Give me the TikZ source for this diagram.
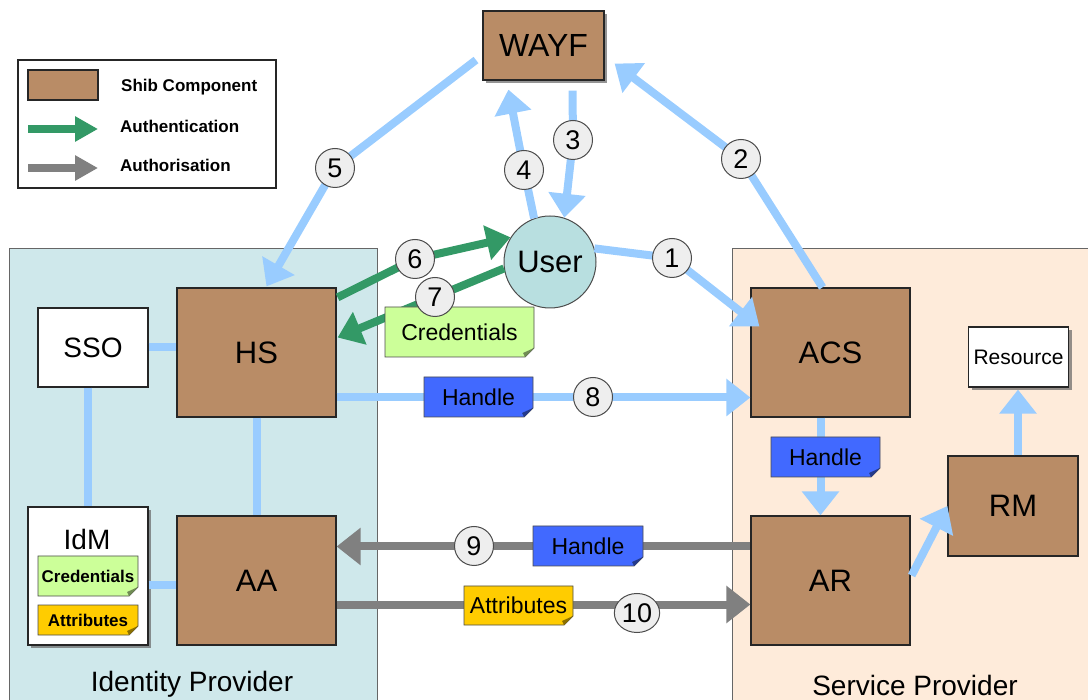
\documentclass[tikz,border=0pt]{standalone}
\usepackage{fontspec}
\setmainfont{Liberation Sans}
\usetikzlibrary{arrows.meta,shapes.geometric,shadows,calc}
\definecolor{shibbrown}{HTML}{B98C66}
\definecolor{idpfill}{HTML}{CFE8EB}
\definecolor{spfill}{HTML}{FEEBDA}
\definecolor{userfill}{HTML}{B8DFE0}
\definecolor{lblue}{HTML}{99CCFF}
\definecolor{authgreen}{HTML}{339966}
\definecolor{authgray}{HTML}{808080}
\definecolor{notegreen}{HTML}{CCFF99}
\definecolor{noteblue}{HTML}{4169FF}
\definecolor{noteyellow}{HTML}{FFCC00}
\definecolor{numfill}{HTML}{EEEEEE}
\newcommand{\setfs}[1]{\fontsize{#1}{#1}\selectfont}
% name, x1, y1, x2, y2, colour, text
\newcommand{\notebox}[7]{%
  \path[fill=#6, draw=black!70, line width=0.8pt] (#2,#3) -- (#4,#3) -- (#4,#5-9) -- (#4-9,#5) -- (#2,#5) -- cycle;
  \path[fill=#6!55!black] (#4,#5-9) -- (#4-9,#5) -- (#4-11,#5-4) -- cycle;
  \node[notetext] (#1) at ({(#2+#4)/2},{(#3+#5)/2}) {#7};}
\begin{document}
\begin{tikzpicture}[x=1pt,y=-1pt,
  shib/.style={draw=black!85, line width=1.2pt, fill=shibbrown, inner sep=0pt, font=\setfs{31}},
  whitebox/.style={draw=black!85, line width=1.2pt, fill=white, inner sep=0pt, font=\setfs{28}},
  shadowed/.style={drop shadow={shadow xshift=3pt, shadow yshift=-3pt, fill=black!60, opacity=0.7}},
  numnode/.style={ellipse, draw=black!70, line width=1pt, fill=numfill, minimum width=39pt, minimum height=39pt, inner sep=1pt, font=\setfs{27}},
  notetext/.style={inner sep=0pt, font=\setfs{23}},
  legtext/.style={inner sep=0pt, font=\bfseries\setfs{17}},
  conn/.style={line width=8pt, draw=lblue, line join=round},
  conarrow/.style={conn, -{Triangle[width=36pt,length=24pt]}},
  authn/.style={line width=8pt, draw=authgreen, line join=round, -{Triangle[width=34pt,length=24pt]}},
  authz/.style={line width=8pt, draw=authgray, line join=round, -{Triangle[width=36pt,length=24pt]}},
]
\useasboundingbox (0,0) rectangle (1088,700);

% ---------- regions ----------
\draw[fill=idpfill, draw=black!60, line width=1pt] (9,249) rectangle (377,720);
\draw[fill=spfill, draw=black!60, line width=1pt] (732,249) rectangle (1100,720);
\node[font=\setfs{28}, inner sep=0pt] (idplabel) at (192,684) {Identity Provider};
\node[font=\setfs{28}, inner sep=0pt] (splabel) at (915,685) {Service Provider};

% ---------- legend ----------
\node[draw=black!85, line width=1.5pt, fill=white, minimum width=258pt, minimum height=128pt, inner sep=0pt] (legend) at (147,124) {};
\node[shib, minimum width=70pt, minimum height=30pt] (swatch) at (63,85) {};
\node[legtext, anchor=west] (lshib) at (121,87) {Shib Component};
\coordinate (lg1) at (28,129); \coordinate (lg2) at (98,129);
\draw[line width=8pt, draw=authgreen, -{Triangle[width=24pt,length=23pt]}] (lg1) -- (lg2);
\node[legtext, anchor=west] (lauthn) at (120,126) {Authentication};
\coordinate (lg3) at (28,168); \coordinate (lg4) at (98,168);
\draw[line width=8pt, draw=authgray, -{Triangle[width=24pt,length=23pt]}] (lg3) -- (lg4);
\node[legtext, anchor=west] (lauthz) at (120,165) {Authorisation};

% ---------- components ----------
\node[shib, shadowed, minimum width=121pt, minimum height=69pt, font=\setfs{32}] (wayf) at (543.5,45.5) {WAYF};
\node[whitebox, minimum width=110pt, minimum height=79pt] (sso) at (93,347.5) {SSO};
\node[shib, minimum width=159pt, minimum height=129pt] (hs) at (256.5,352.5) {HS};
\node[shib, minimum width=159pt, minimum height=129pt] (aa) at (256.5,580.5) {AA};
\node[whitebox, shadowed, minimum width=120pt, minimum height=138pt] (idm) at (88,576) {};
\node[font=\setfs{28}, inner sep=0pt] (idmlabel) at (87,539) {IdM};
\node[circle, draw=black!70, line width=1pt, fill=userfill, minimum size=92pt, inner sep=0pt, font=\setfs{31}] (user) at (550,262) {User};
\node[shib, minimum width=159pt, minimum height=129pt] (acs) at (830.5,352.5) {ACS};
\node[shib, minimum width=159pt, minimum height=129pt] (ar) at (830.5,580.5) {AR};
\node[shib, minimum width=130pt, minimum height=100pt] (rm) at (1013,506) {RM};
\node[whitebox, shadowed, minimum width=100pt, minimum height=60pt, font=\setfs{21}] (res) at (1018.5,357) {Resource};

% ---------- number positions ----------
\coordinate (c1) at (672,258);
\coordinate (c2) at (741,159);
\coordinate (c3) at (573,140);
\coordinate (c4) at (524,170);
\coordinate (c5) at (335,168);
\coordinate (c6) at (415,259);
\coordinate (c7) at (435,297);
\coordinate (c8) at (593,397);
\coordinate (c9) at (474,546);
\coordinate (c10) at (637,613);
\coordinate (s5) at (476,60);

% ---------- plain links ----------
\draw[conn] (sso.east) -- (sso.east -| hs.west);
\draw[conn] (idm.north |- sso.south) -- (idm.north);
\draw[conn] (hs.south) -- (aa.north);
\coordinate (idmr) at ($(idm.east)+(0,9)$);
\draw[conn] (idmr) -- (idmr -| aa.west);

% ---------- flows ----------
\draw[conarrow] (user.17) -- (c1) -- ($(acs.north west)+(9,39)$);
\draw[conarrow] ($(acs.north)+(-8,0)$) -- (c2) -- ($(wayf.south east)+(10,-17)$);
\draw[conarrow] ($(wayf.south)+(29,10)$) -- (c3) -- (user.72);
\draw[conarrow] (user.110) -- (c4) -- ($(wayf.south west)+(26,9)$);
\draw[conarrow] (s5) -- (c5) -- ($(hs.north)+(10,-1)$);
\draw[authn] ($(hs.north east)+(1,10)$) -- (c6) -- (user.148);
\draw[authn] (user.188) -- (c7) -- ($(hs.east)+(1,-15)$);
\coordinate (hsr) at ($(hs.east)+(0,45)$);
\draw[conarrow] (hsr) -- (hsr -| acs.west);
\coordinate (acsb) at ($(acs.south)+(-10,0)$);
\draw[conarrow] (acsb) -- (acsb |- ar.north);
\draw[conarrow] ($(ar.east)+(1,-5)$) -- (rm.west);
\coordinate (rmt) at ($(rm.north)+(5,0)$);
\draw[conarrow] (rmt) -- ($(rmt |- res.south)+(0,2)$);
\coordinate (arl) at ($(ar.west)+(0,-34)$);
\draw[authz] (arl) -- (arl -| aa.east);
\coordinate (aar) at ($(aa.east)+(0,24)$);
\draw[authz] (aar) -- (aar -| ar.west);

% ---------- notes ----------
\notebox{credu}{385}{307}{534}{357}{notegreen}{Credentials}
\notebox{h8}{424}{377}{533}{417}{noteblue}{Handle}
\notebox{hacs}{771}{437}{880}{477}{noteblue}{Handle}
\notebox{h9}{533}{526}{643}{566}{noteblue}{Handle}
\notebox{att10}{464}{586}{573}{625}{noteyellow}{Attributes}
\notebox{idmcred}{38}{556}{138}{596}{notegreen}{\bfseries\setfs{17}Credentials}
\notebox{idmatt}{38}{605}{138}{635}{noteyellow}{\bfseries\setfs{17}Attributes}

% ---------- numbers ----------
\node[numnode] (n1) at (c1) {1};
\node[numnode] (n2) at (c2) {2};
\node[numnode] (n3) at (c3) {3};
\node[numnode] (n4) at (c4) {4};
\node[numnode] (n5) at (c5) {5};
\node[numnode] (n6) at (c6) {6};
\node[numnode] (n7) at (c7) {7};
\node[numnode] (n8) at (c8) {8};
\node[numnode] (n9) at (c9) {9};
\node[numnode] (n10) at (c10) {10};
\end{tikzpicture}
\end{document}
